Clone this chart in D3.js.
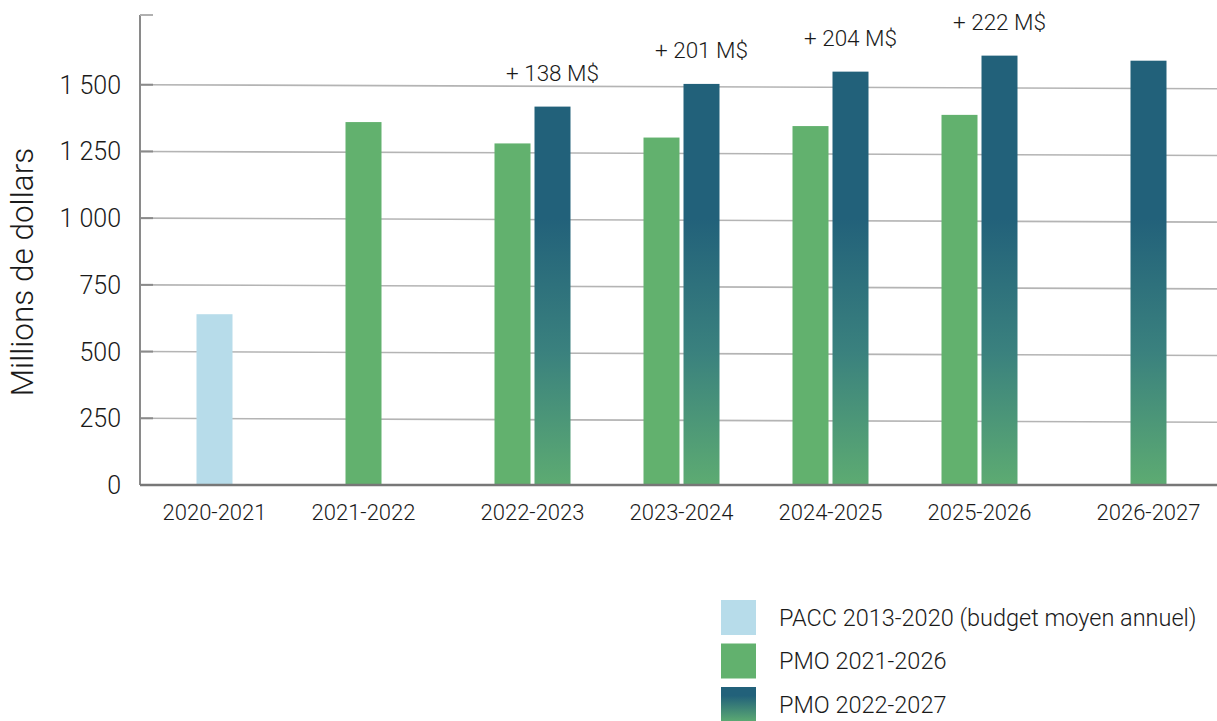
<!DOCTYPE html>
<html>
<head>
<meta charset="utf-8">
<script src="https://cdn.jsdelivr.net/npm/d3@7"></script>
<style>
  body { margin: 0; background: #fff; }
  text { font-family: Roboto, "Liberation Sans", sans-serif; font-weight: 300; fill: #1a1a1a; }
</style>
</head>
<body>
<div id="wrapper"></div>
<script>
// data
var years = ["2020-2021", "2021-2022", "2022-2023", "2023-2024", "2024-2025", "2025-2026", "2026-2027"];
var pacc = [640, null, null, null, null, null, null];          // PACC 2013-2020 (budget moyen annuel)
var pmo2021 = [null, 1360, 1280, 1302, 1345, 1387, null];      // PMO 2021-2026
var pmo2022 = [null, null, 1418, 1503, 1549, 1609, 1590];      // PMO 2022-2027
var gains = [null, null, 138, 201, 204, 222, null];            // écart PMO 2022-2027 vs 2021-2026
var yTicks = [0, 250, 500, 750, 1000, 1250, 1500];
var legendNames = ["PACC 2013-2020 (budget moyen annuel)", "PMO 2021-2026", "PMO 2022-2027"];

var width = 1217, height = 721;
var left = 140, bottom = 485;

var svg = d3.select("#wrapper").append("svg")
    .attr("width", width)
    .attr("height", height);

var defs = svg.append("defs");

var y = d3.scaleLinear().domain([0, 1750]).range([bottom, 18]);

// per-category band, bars sit at the center slot or one slot to the right
var x0 = d3.scaleBand().domain(years).range([left, left + 149 * years.length]);
var x1 = d3.scaleBand().domain(["a", "b"]).range([0, 80]);
var barW = 36;

function center(cat) { return x0(cat) + x0.bandwidth() / 2; }
function slotX(cat, slot) { return center(cat) - 20 + x1(slot) + 2; }

// gradient for the PMO 2022-2027 bars
var grad = defs.append("linearGradient")
    .attr("id", "blueGrad")
    .attr("gradientUnits", "userSpaceOnUse")
    .attr("x1", 0).attr("x2", 0)
    .attr("y1", y(1000)).attr("y2", y(0));
grad.append("stop").attr("offset", "0%").attr("stop-color", "#22617a");
grad.append("stop").attr("offset", "50%").attr("stop-color", "#3a817e");
grad.append("stop").attr("offset", "100%").attr("stop-color", "#5dab72");

var grad2 = defs.append("linearGradient")
    .attr("id", "legendGrad")
    .attr("x1", 0).attr("x2", 0).attr("y1", 0).attr("y2", 1);
grad2.append("stop").attr("offset", "0%").attr("stop-color", "#22617a");
grad2.append("stop").attr("offset", "25%").attr("stop-color", "#22617a");
grad2.append("stop").attr("offset", "100%").attr("stop-color", "#5dab72");

// gridlines (slightly tilted like the original)
svg.selectAll(".grid")
    .data(yTicks.filter(function(d) { return d > 0; }))
    .enter().append("line")
    .attr("x1", left).attr("x2", width)
    .attr("y1", function(d) { return y(d); })
    .attr("y2", function(d) { return y(d) + 4; })
    .attr("stroke", "#b4b4b4")
    .attr("stroke-width", 1.6);

// bars
var bars = [];
years.forEach(function(c, i) {
    if (pacc[i] != null) bars.push({cat: c, v: pacc[i], slot: "a", fill: "#b7dcea"});
    if (pmo2021[i] != null) bars.push({cat: c, v: pmo2021[i], slot: "a", fill: "#62b16e"});
    if (pmo2022[i] != null) bars.push({cat: c, v: pmo2022[i], slot: "b", fill: "url(#blueGrad)"});
});

svg.selectAll(".bar")
    .data(bars)
    .enter().append("rect")
    .attr("x", function(d) { return slotX(d.cat, d.slot); })
    .attr("width", barW)
    .attr("y", function(d) { return y(d.v); })
    .attr("height", function(d) { return y(0) - y(d.v); })
    .attr("fill", function(d) { return d.fill; });

// gain labels above the blue bars
years.forEach(function(c, i) {
    if (gains[i] == null) return;
    svg.append("text")
        .attr("x", slotX(c, "b") + barW / 2)
        .attr("y", y(pmo2022[i]) - 26)
        .attr("text-anchor", "middle")
        .style("font-size", "22.5px")
        .text("+ " + gains[i] + " M$");
});

// y axis
svg.append("line")
    .attr("x1", left).attr("x2", left)
    .attr("y1", 15).attr("y2", bottom)
    .attr("stroke", "#8a8a8a").attr("stroke-width", 2);
svg.selectAll(".ytick")
    .data(yTicks.concat([1750]))
    .enter().append("line")
    .attr("x1", left).attr("x2", left + 13)
    .attr("y1", function(d) { return d == 1750 ? 15 : y(d); })
    .attr("y2", function(d) { return d == 1750 ? 15 : y(d); })
    .attr("stroke", function(d) { return d == 1750 ? "#b0b0b0" : "#8a8a8a"; })
    .attr("stroke-width", 2);

var fmt = function(d) { return d3.format(",")(d).replace(",", " "); };
svg.selectAll(".ylab")
    .data(yTicks)
    .enter().append("text")
    .attr("x", 121)
    .attr("y", function(d) { return y(d); })
    .attr("dy", "0.36em")
    .attr("text-anchor", "end")
    .style("font-size", "25px")
    .text(fmt);

svg.append("text")
    .attr("transform", "translate(33," + 272 + ") rotate(-90)")
    .attr("text-anchor", "middle")
    .style("font-size", "31.5px")
    .text("Millions de dollars");

// x axis
svg.append("line")
    .attr("x1", left).attr("x2", width)
    .attr("y1", bottom).attr("y2", bottom)
    .attr("stroke", "#777").attr("stroke-width", 2.5);

years.forEach(function(c, i) {
    var xs = bars.filter(function(b) { return b.cat == c; })
        .map(function(b) { return slotX(b.cat, b.slot) + barW / 2; });
    svg.append("text")
        .attr("x", d3.mean(xs))
        .attr("y", 520)
        .attr("text-anchor", "middle")
        .style("font-size", "22px")
        .text(c);
});

// legend
var legendFills = ["#b7dcea", "#62b16e", "url(#legendGrad)"];
var lg = svg.selectAll(".leg")
    .data(legendNames)
    .enter().append("g")
    .attr("transform", function(d, i) { return "translate(721," + (600 + i * 43.5) + ")"; });
lg.append("rect")
    .attr("width", 35).attr("height", 35)
    .attr("fill", function(d, i) { return legendFills[i]; });
lg.append("text")
    .attr("x", 58)
    .attr("y", 17.5)
    .attr("dy", "0.36em")
    .style("font-size", "23.5px")
    .text(function(d) { return d; });
</script>
</body>
</html>
